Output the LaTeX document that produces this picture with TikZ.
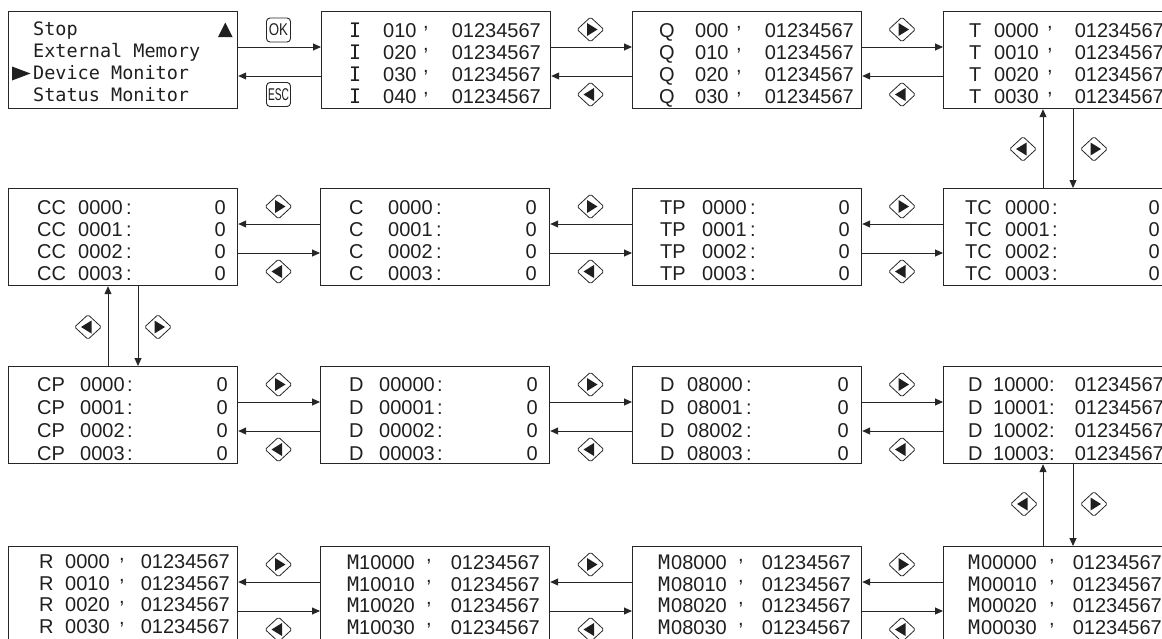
\documentclass[tikz,border=0pt]{standalone}
\usepackage{fontspec}
\setmainfont{Liberation Sans}
\newfontfamily\monof{DejaVu Sans Mono}
\usetikzlibrary{calc,arrows.meta,shapes.geometric}
\newcommand\setpos[6]{\def\LX{#1}\def\NX{#2}\def\SX{#3}\def\VX{#4}\def\BY{#5}\def\LS{#6}}
\newcommand\cma{\raisebox{8.5pt}{\fontsize{20}{20}\selectfont,}}
\newcommand\lcd[6]{%
  \node[txt,anchor=base west] (#1-#2-a) at ($(#1.north west)+(\LX,\BY+#2*\LS)$) {#3};
  \node[txt,anchor=base west] (#1-#2-b) at ($(#1.north west)+(\NX,\BY+#2*\LS)$) {#4};
  \node[txt,anchor=base west] (#1-#2-c) at ($(#1.north west)+(\SX,\BY+#2*\LS)$) {#5};
  \node[txt,anchor=base east] (#1-#2-d) at ($(#1.north west)+(\VX,\BY+#2*\LS)$) {#6};
}
\newcommand\keyR[3]{%
  \node[keyd] (#1) at (#2,#3) {};
  \fill[ink] ($(#1)+(-3.5,-6.5)$) -- ($(#1)+(-3.5,6.5)$) -- ($(#1)+(7,0)$) -- cycle;
}
\newcommand\keyL[3]{%
  \node[keyd] (#1) at (#2,#3) {};
  \fill[ink] ($(#1)+(3.5,-6.5)$) -- ($(#1)+(3.5,6.5)$) -- ($(#1)+(-7,0)$) -- cycle;
}
\newcommand\hlinksR[2]{%
  \draw[lnk] ($(#1.north east)+(0,36)$) -- ($(#2.north west)+(0,36)$);
  \draw[lnk] ($(#2.north west)+(0,65)$) -- ($(#1.north east)+(0,65)$);
}
\newcommand\hlinksL[2]{%
  \draw[lnk] ($(#2.north west)+(0,36)$) -- ($(#1.north east)+(0,36)$);
  \draw[lnk] ($(#1.north east)+(0,65)$) -- ($(#2.north west)+(0,65)$);
}
\newcommand\vlinks[2]{%
  \draw[lnk] ($(#2.north west)+(100,0)$) -- ($(#1.south west)+(100,0)$);
  \draw[lnk] ($(#1.south west)+(130,0)$) -- ($(#2.north west)+(130,0)$);
}
\begin{document}
\begin{tikzpicture}[x=1pt,y=-1pt,
  ink/.style={black!88},
  lcdbox/.style={draw=black!85, line width=1.2pt, minimum width=229pt, minimum height=97pt, inner sep=0pt, anchor=north west},
  txt/.style={inner sep=0pt, font=\fontsize{20}{20}\selectfont, text=black!88},
  mtxt/.style={inner sep=0pt, font=\monof\fontsize{18.5}{18.5}\selectfont, text=black!88, anchor=base west},
  lnk/.style={draw=black!85, line width=0.9pt, -{Triangle[length=8pt,width=7pt]}},
  keyd/.style={diamond, draw=black!85, line width=0.8pt, minimum width=27pt, minimum height=25pt, inner sep=0pt, rounded corners=1.5pt},
  btn/.style={draw=black!85, line width=0.9pt, rounded corners=3.5pt, minimum width=24pt, minimum height=24pt, inner sep=0pt, font=\fontsize{17}{17}\selectfont, text=black!88},
]
\useasboundingbox (0,0) rectangle (1162,638);
\clip (0,0) rectangle (1162,638);

% ---------- Row 1 ----------
\node[lcdbox] (menu) at (8,11) {};
\node[mtxt] (m1) at ($(menu.north west)+(25,24)$) {Stop};
\node[mtxt] (m2) at ($(menu.north west)+(25,46)$) {External Memory};
\node[mtxt] (m3) at ($(menu.north west)+(25,68)$) {Device Monitor};
\node[mtxt] (m4) at ($(menu.north west)+(25,90)$) {Status Monitor};
\fill[ink] ($(menu.north west)+(4,55.5)$) -- ($(menu.north west)+(4,69.5)$) -- ($(menu.north west)+(22.5,62.5)$) -- cycle;
\fill[ink] ($(menu.north west)+(210,26)$) -- ($(menu.north west)+(224.5,26)$) -- ($(menu.north west)+(217.3,11.5)$) -- cycle;

\node[lcdbox] (I) at (321,11) {};
\setpos{28}{62}{102}{220}{26}{22}
\lcd{I}{0}{{\monof I}}{010}{\cma}{01234567}
\lcd{I}{1}{{\monof I}}{020}{\cma}{01234567}
\lcd{I}{2}{{\monof I}}{030}{\cma}{01234567}
\lcd{I}{3}{{\monof I}}{040}{\cma}{01234567}

\node[lcdbox] (Q) at (632,11) {};
\setpos{27}{63}{104}{222}{26}{22}
\lcd{Q}{0}{Q}{000}{\cma}{01234567}
\lcd{Q}{1}{Q}{010}{\cma}{01234567}
\lcd{Q}{2}{Q}{020}{\cma}{01234567}
\lcd{Q}{3}{Q}{030}{\cma}{01234567}

\node[lcdbox] (T) at (943,11) {};
\setpos{26}{51}{104}{221}{26}{22}
\lcd{T}{0}{T}{0000}{\cma}{01234567}
\lcd{T}{1}{T}{0010}{\cma}{01234567}
\lcd{T}{2}{T}{0020}{\cma}{01234567}
\lcd{T}{3}{T}{0030}{\cma}{01234567}

% ---------- Row 2 ----------
\node[lcdbox] (CC) at (8,188) {};
\setpos{29}{70}{118}{218}{26}{22.3}
\lcd{CC}{0}{CC}{0000}{:}{0}
\lcd{CC}{1}{CC}{0001}{:}{0}
\lcd{CC}{2}{CC}{0002}{:}{0}
\lcd{CC}{3}{CC}{0003}{:}{0}

\node[lcdbox] (C) at (320,188) {};
\setpos{29}{68}{116}{217}{26}{22.3}
\lcd{C}{0}{C}{0000}{:}{0}
\lcd{C}{1}{C}{0001}{:}{0}
\lcd{C}{2}{C}{0002}{:}{0}
\lcd{C}{3}{C}{0003}{:}{0}

\node[lcdbox] (TP) at (632,188) {};
\setpos{28}{70}{118}{218}{26}{22.3}
\lcd{TP}{0}{TP}{0000}{:}{0}
\lcd{TP}{1}{TP}{0001}{:}{0}
\lcd{TP}{2}{TP}{0002}{:}{0}
\lcd{TP}{3}{TP}{0003}{:}{0}

\node[lcdbox] (TC) at (943,188) {};
\setpos{22}{62}{109}{217}{26}{22.3}
\lcd{TC}{0}{TC}{0000}{:}{0}
\lcd{TC}{1}{TC}{0001}{:}{0}
\lcd{TC}{2}{TC}{0002}{:}{0}
\lcd{TC}{3}{TC}{0003}{:}{0}

% ---------- Row 3 ----------
\node[lcdbox] (CP) at (8,366) {};
\setpos{29}{72}{119}{220}{25}{23}
\lcd{CP}{0}{CP}{0000}{:}{0}
\lcd{CP}{1}{CP}{0001}{:}{0}
\lcd{CP}{2}{CP}{0002}{:}{0}
\lcd{CP}{3}{CP}{0003}{:}{0}

\node[lcdbox] (D0) at (320,366) {};
\setpos{29}{59}{117}{218}{25}{23}
\lcd{D0}{0}{D}{00000}{:}{0}
\lcd{D0}{1}{D}{00001}{:}{0}
\lcd{D0}{2}{D}{00002}{:}{0}
\lcd{D0}{3}{D}{00003}{:}{0}

\node[lcdbox] (D8) at (632,366) {};
\setpos{28}{55}{114}{217}{25}{23}
\lcd{D8}{0}{D}{08000}{:}{0}
\lcd{D8}{1}{D}{08001}{:}{0}
\lcd{D8}{2}{D}{08002}{:}{0}
\lcd{D8}{3}{D}{08003}{:}{0}

\node[lcdbox] (D10) at (943,366) {};
\setpos{25}{50}{106}{221}{25}{23}
\lcd{D10}{0}{D}{10000}{:}{01234567}
\lcd{D10}{1}{D}{10001}{:}{01234567}
\lcd{D10}{2}{D}{10002}{:}{01234567}
\lcd{D10}{3}{D}{10003}{:}{01234567}

% ---------- Row 4 ----------
\node[lcdbox] (R) at (8,546) {};
\setpos{31}{57}{111}{222}{22.5}{21.5}
\lcd{R}{0}{R}{0000}{\cma}{01234567}
\lcd{R}{1}{R}{0010}{\cma}{01234567}
\lcd{R}{2}{R}{0020}{\cma}{01234567}
\lcd{R}{3}{R}{0030}{\cma}{01234567}

\node[lcdbox] (M10) at (320,546) {};
\setpos{27}{39}{106}{220}{23.5}{21.5}
\lcd{M10}{0}{{\monof M}}{10000}{\cma}{01234567}
\lcd{M10}{1}{{\monof M}}{10010}{\cma}{01234567}
\lcd{M10}{2}{{\monof M}}{10020}{\cma}{01234567}
\lcd{M10}{3}{{\monof M}}{10030}{\cma}{01234567}

\node[lcdbox] (M8) at (632,546) {};
\setpos{26}{39}{106}{219}{23.5}{21.5}
\lcd{M8}{0}{{\monof M}}{08000}{\cma}{01234567}
\lcd{M8}{1}{{\monof M}}{08010}{\cma}{01234567}
\lcd{M8}{2}{{\monof M}}{08020}{\cma}{01234567}
\lcd{M8}{3}{{\monof M}}{08030}{\cma}{01234567}

\node[lcdbox] (M0) at (943,546) {};
\setpos{25}{38}{106}{219}{23.5}{21.5}
\lcd{M0}{0}{{\monof M}}{00000}{\cma}{01234567}
\lcd{M0}{1}{{\monof M}}{00010}{\cma}{01234567}
\lcd{M0}{2}{{\monof M}}{00020}{\cma}{01234567}
\lcd{M0}{3}{{\monof M}}{00030}{\cma}{01234567}

% ---------- connectors ----------
\hlinksR{menu}{I}
\hlinksR{I}{Q}
\hlinksR{Q}{T}
\vlinks{T}{TC}
\hlinksL{TP}{TC}
\hlinksL{C}{TP}
\hlinksL{CC}{C}
\vlinks{CC}{CP}
\hlinksR{CP}{D0}
\hlinksR{D0}{D8}
\hlinksR{D8}{D10}
\vlinks{D10}{M0}
\hlinksL{M8}{M0}
\hlinksL{M10}{M8}
\hlinksL{R}{M10}

% ---------- keys ----------
\node[btn] (ok) at (278.5,30) {\scalebox{0.78}[1]{OK}};
\node[btn] (esc) at (278.5,94.5) {\scalebox{0.6}[1]{ESC}};
\keyR{k1u}{590.5}{29.5}  \keyL{k1d}{590.5}{94.5}
\keyR{k2u}{902}{29.5}    \keyL{k2d}{902}{94.5}
\keyL{kv1l}{1023}{149}   \keyR{kv1r}{1094}{149}
\keyR{k3u}{278.5}{206.5} \keyL{k3d}{278.5}{271.5}
\keyR{k4u}{590.5}{206.5} \keyL{k4d}{590.5}{271.5}
\keyR{k5u}{902}{206.5}   \keyL{k5d}{902}{271.5}
\keyL{kv2l}{88}{327}     \keyR{kv2r}{158}{327}
\keyR{k6u}{278.5}{384.5} \keyL{k6d}{278.5}{449.5}
\keyR{k7u}{590.5}{384.5} \keyL{k7d}{590.5}{449.5}
\keyR{k8u}{902}{384.5}   \keyL{k8d}{902}{449.5}
\keyL{kv3l}{1024}{504}   \keyR{kv3r}{1094}{504}
\keyR{k9u}{278.5}{564.5} \keyL{k9d}{278.5}{629.5}
\keyR{k10u}{590.5}{564.5} \keyL{k10d}{590.5}{629.5}
\keyR{k11u}{902}{564.5}  \keyL{k11d}{902}{629.5}
\end{tikzpicture}
\end{document}
